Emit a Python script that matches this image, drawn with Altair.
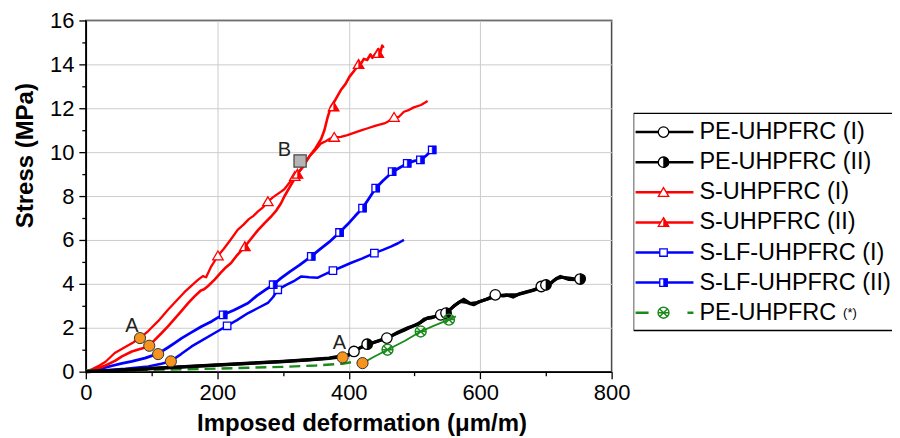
import altair as alt
import pandas as pd

# ---------------- data ----------------
# S-UHPFRC (I)  red, open triangles
sI_x = [0, 10, 20, 30, 44, 60, 72, 82, 95, 110, 125, 140, 150, 160, 171, 178, 183, 190, 201, 210, 220, 231, 240, 248, 255, 262, 270, 277, 285, 297, 302, 313, 320, 330, 340, 348, 358, 365, 372, 378, 388, 398, 410, 420, 429, 440, 454, 460, 469, 476, 484, 490, 499, 510, 520]
sI_y = [0, 0.12, 0.27, 0.45, 0.85, 1.12, 1.33, 1.53, 1.85, 2.3, 2.82, 3.3, 3.62, 3.9, 4.19, 4.35, 4.3, 4.75, 5.28, 5.6, 6.0, 6.46, 6.7, 6.95, 7.1, 7.3, 7.5, 7.75, 7.95, 8.2, 8.31, 8.73, 8.95, 9.3, 9.8, 10.05, 10.4, 10.5, 10.62, 10.68, 10.7, 10.78, 10.9, 11.0, 11.09, 11.2, 11.31, 11.4, 11.59, 11.6, 11.84, 11.9, 12.04, 12.15, 12.33]
sI_mx = [201, 277, 318, 378, 469]
sI_my = [5.28, 7.75, 8.9, 10.68, 11.59]

# S-UHPFRC (II)  red, half-filled triangles
sII_x = [0, 15, 30, 45, 55, 70, 85, 96, 105, 115, 125, 135, 145, 156, 165, 175, 180, 186, 196, 205, 213, 221, 230, 242, 252, 262, 272, 282, 290, 297, 302, 310, 316, 322, 330, 340, 350, 358, 363, 368, 373, 380, 388, 395, 401, 408, 413, 418, 423, 428, 433, 436, 441, 445, 448, 451, 453]
sII_y = [0, 0.12, 0.28, 0.5, 0.7, 0.92, 1.05, 1.18, 1.45, 1.75, 2.06, 2.4, 2.75, 3.13, 3.42, 3.7, 3.75, 3.9, 4.19, 4.5, 4.75, 4.95, 5.3, 5.7, 6.08, 6.45, 6.77, 7.07, 7.35, 7.67, 7.98, 8.4, 8.7, 9.0, 9.35, 9.8, 10.2, 10.6, 11.0, 11.6, 12.07, 12.4, 12.83, 13.1, 13.43, 13.7, 13.89, 14.0, 14.25, 14.2, 14.45, 14.3, 14.5, 14.7, 14.55, 14.85, 14.75]
sII_mx = [242, 322, 377, 415, 445]
sII_my = [5.7, 9.0, 12.07, 14.0, 14.5]

# S-LF-UHPFRC (I)  blue, open squares
lI_x = [0, 30, 60, 95, 115, 129, 145, 161, 178, 196, 215, 230, 247, 262, 277, 285, 292, 305, 318, 328, 340, 353, 365, 376, 390, 403, 420, 439, 452, 464, 475, 484]
lI_y = [0, 0.07, 0.13, 0.24, 0.36, 0.47, 0.8, 1.15, 1.45, 1.76, 2.09, 2.35, 2.67, 2.9, 3.13, 3.4, 3.73, 3.95, 4.15, 4.34, 4.3, 4.28, 4.45, 4.6, 4.78, 4.95, 5.15, 5.4, 5.55, 5.7, 5.85, 6.0]
lI_mx = [215, 292, 376, 439]
lI_my = [2.09, 3.73, 4.6, 5.4]

# S-LF-UHPFRC (II)  blue, half-filled squares
lII_x = [0, 20, 40, 55, 70, 90, 110, 125, 135, 146, 160, 176, 192, 200, 209, 225, 235, 247, 260, 272, 285, 297, 310, 325, 343, 355, 370, 386, 398, 410, 421, 431, 441, 452, 467, 478, 489, 500, 510, 518, 527]
lII_y = [0, 0.12, 0.27, 0.38, 0.47, 0.62, 0.82, 1.1, 1.3, 1.53, 1.78, 2.06, 2.3, 2.45, 2.59, 2.8, 2.95, 3.13, 3.45, 3.7, 3.96, 4.26, 4.55, 4.85, 5.25, 5.55, 5.9, 6.34, 6.7, 7.1, 7.45, 7.9, 8.36, 8.7, 9.11, 9.3, 9.49, 9.6, 9.65, 9.85, 10.1]
lII_mx = [209, 285, 343, 386, 421, 441, 466, 489, 509, 527]
lII_my = [2.59, 3.96, 5.25, 6.34, 7.45, 8.36, 9.11, 9.49, 9.65, 10.1]

# PE-UHPFRC (I)  black, open circles
pI_x = [0, 50, 100, 150, 200, 250, 300, 340, 370, 390, 400, 408, 415, 428, 440, 458, 470, 485, 499, 510, 520, 530, 540, 550, 560, 570, 580, 590, 600, 610, 623, 635, 645, 656, 668, 680, 693, 705, 712, 722, 735, 747, 755, 760]
pI_y = [0, 0.06, 0.14, 0.22, 0.3, 0.38, 0.46, 0.54, 0.6, 0.68, 0.75, 0.92, 1.05, 1.23, 1.35, 1.53, 1.7, 1.9, 2.1, 2.25, 2.45, 2.5, 2.59, 2.7, 3.0, 3.2, 3.15, 3.05, 3.2, 3.3, 3.5, 3.45, 3.5, 3.5, 3.6, 3.7, 3.88, 3.95, 4.15, 4.34, 4.2, 4.19, 4.3, 4.32]
pI_mx = [408, 458, 540, 623, 693]
pI_my = [0.92, 1.53, 2.59, 3.5, 3.88]

# PE-UHPFRC (II)  black, half-filled circles
pII_x = [0, 50, 100, 150, 200, 250, 300, 340, 370, 385, 395, 405, 418, 430, 445, 460, 475, 490, 505, 515, 525, 535, 545, 555, 565, 575, 585, 595, 605, 615, 625, 640, 650, 660, 672, 685, 698, 708, 716, 725, 738, 750, 758]
pII_y = [0, 0.07, 0.15, 0.23, 0.31, 0.39, 0.47, 0.55, 0.62, 0.7, 0.72, 0.85, 1.1, 1.25, 1.4, 1.55, 1.8, 2.0, 2.15, 2.4, 2.45, 2.55, 2.65, 2.85, 3.1, 3.3, 3.1, 3.15, 3.25, 3.35, 3.45, 3.5, 3.4, 3.55, 3.65, 3.75, 3.92, 4.05, 4.25, 4.3, 4.25, 4.2, 4.35]
pII_mx = [428, 548, 700, 752]
pII_my = [1.25, 2.67, 3.95, 4.22]

# PE-UHPFRC(*)  green, crossed circles
gd_x = [0, 100, 200, 300, 350, 390, 408, 421]
gd_y = [0.05, 0.08, 0.14, 0.22, 0.28, 0.36, 0.45, 0.39]
gs_x = [421, 440, 459, 485, 509.5, 530, 552.5, 563]
gs_y = [0.39, 0.7, 1.0, 1.4, 1.83, 2.1, 2.37, 2.52]
g_mx = [459, 509.5, 552.5]
g_my = [1.0, 1.83, 2.37]

# Points A and B
a_x = [82.4, 96.5, 110, 129.4, 390.7, 421]
a_y = [1.53, 1.18, 0.80, 0.47, 0.65, 0.39]
b_x = [326]
b_y = [9.6]
lab_x = [70, 386, 302]
lab_y = [2.06, 1.3, 10.1]
lab_t = ["A", "A", "B"]

# legend
leg_labels = ["PE-UHPFRC (I)", "PE-UHPFRC (II)", "S-UHPFRC (I)", "S-UHPFRC (II)",
              "S-LF-UHPFRC (I)", "S-LF-UHPFRC (II)", "PE-UHPFRC"]

# ---------------- styling ----------------
RED, BLUE, BLACK, GREEN = "#ff0000", "#0000ff", "#000000", "#1a8a1a"
ORANGE, GRAY = "#f7941d", "#b4b4b4"
FONT = "Liberation Sans"

CIRCLE = "M1,0 A1,1 0 1,1 -1,0 A1,1 0 1,1 1,0 Z"
RH_CIRCLE = "M0,-1 A1,1 0 0,1 0,1 Z"
TRI = "M0,-1 L1.1,0.85 L-1.1,0.85 Z"
RH_TRI = "M0,-1 L1.1,0.85 L0,0.85 Z"
SQ = "M-1,-1 L1,-1 L1,1 L-1,1 Z"
RH_SQ = "M0,-1 L1,-1 L1,1 L0,1 Z"
XCIRC = CIRCLE + " M-0.7,-0.7 L0.7,0.7 M-0.7,0.7 L0.7,-0.7 M-1,0 L1,0"


def cond(step, a, b):
    return {"condition": {"test": f"datum.value % {step} === 0", "value": a}, "value": b}


xaxis = alt.Axis(values=list(range(0, 801, 100)),
                 labelExpr="datum.value % 200 === 0 ? datum.label : ''",
                 tickSize=cond(200, 7, 4), gridOpacity=cond(200, 1, 0),
                 grid=True, gridColor="#cccccc", gridWidth=1,
                 title="Imposed deformation (μm/m)", titleFontSize=24, titleFontWeight="bold",
                 titleX=111, titleY=52, titleAlign="left", titleBaseline="middle",
                 labelFontSize=22, labelPadding=4, labelFlush=False,
                 domainColor="black", domainWidth=1.5, tickColor="black", tickWidth=1.3,
                 labelColor="black", titleColor="black", labelFont=FONT, titleFont=FONT)
yaxis = alt.Axis(values=list(range(0, 17)),
                 labelExpr="datum.value % 2 === 0 ? datum.label : ''",
                 tickSize=cond(2, 7, 4), gridOpacity=cond(2, 1, 0),
                 grid=True, gridColor="#cccccc", gridWidth=1,
                 title="Stress (MPa)", titleFontSize=24, titleFontWeight="bold",
                 titleX=-60, titleY=135, titleAngle=270, titleAlign="center",
                 titleBaseline="middle",
                 labelFontSize=22, labelPadding=5, labelFlush=False,
                 domainColor="black", domainWidth=1.5, tickColor="black", tickWidth=1.3,
                 labelColor="black", titleColor="black", labelFont=FONT, titleFont=FONT)

XS = alt.Scale(domain=[0, 800], nice=False, zero=False)
YS = alt.Scale(domain=[0, 16], nice=False, zero=False)
X = alt.X("x:Q", scale=XS, axis=xaxis)
Y = alt.Y("y:Q", scale=YS, axis=yaxis)


def line(xs, ys, color, width, dash=None):
    kw = dict(color=color, strokeWidth=width, strokeJoin="round")
    if dash:
        kw["strokeDash"] = dash
    return alt.Chart(pd.DataFrame({"x": xs, "y": ys})).mark_line(**kw).encode(x=X, y=Y)


def pts(xs, ys, shape, size, fill, stroke, sw=1.3):
    return alt.Chart(pd.DataFrame({"x": xs, "y": ys})).mark_point(
        shape=shape, size=size, filled=True, fill=fill, stroke=stroke,
        strokeWidth=sw, opacity=1).encode(x=X, y=Y)


layers = [
    line(lI_x, lI_y, BLUE, 2.5),
    line(lII_x, lII_y, BLUE, 2.8),
    line(sI_x, sI_y, RED, 2.3),
    line(sII_x, sII_y, RED, 2.6),
    line(gd_x, gd_y, GREEN, 2.4, [11, 6]),
    line(pI_x, pI_y, BLACK, 3.2),
    line(pII_x, pII_y, BLACK, 3.2),
    line(gs_x, gs_y, GREEN, 1.8),
    pts(lI_mx, lI_my, SQ, 56, "white", BLUE),
    pts(lII_mx, lII_my, SQ, 56, "white", BLUE),
    pts(lII_mx, lII_my, RH_SQ, 56, BLUE, BLUE, 0.5),
    pts(sI_mx, sI_my, TRI, 90, "white", RED),
    pts(sII_mx, sII_my, TRI, 90, "white", RED),
    pts(sII_mx, sII_my, RH_TRI, 90, RED, RED, 0.5),
    pts(pI_mx, pI_my, CIRCLE, 110, "white", BLACK),
    pts(pII_mx, pII_my, CIRCLE, 110, "white", BLACK),
    pts(pII_mx, pII_my, RH_CIRCLE, 110, BLACK, BLACK, 0.5),
    pts(g_mx, g_my, XCIRC, 120, "transparent", GREEN, 1.4),
    alt.Chart(pd.DataFrame({"x": a_x, "y": a_y})).mark_point(
        shape="circle", size=125, filled=True, fill=ORANGE, stroke="#333333",
        strokeWidth=1, opacity=1).encode(x=X, y=Y),
    alt.Chart(pd.DataFrame({"x": b_x, "y": b_y})).mark_point(
        shape="square", size=150, filled=True, fill=GRAY, stroke="#444444",
        strokeWidth=1.2, opacity=1).encode(x=X, y=Y),
    alt.Chart(pd.DataFrame({"x": lab_x, "y": lab_y, "t": lab_t})).mark_text(
        fontSize=20, font=FONT, color="#222222", align="center", baseline="middle"
    ).encode(x=X, y=Y, text="t:N"),
]

main = alt.layer(*layers).properties(
    width=527, height=352,
    view=alt.ViewBackground(stroke="black", strokeWidth=1.5))

# ---------------- legend panel ----------------
rows = list(range(7))
LX = alt.Scale(domain=[0, 259], nice=False, zero=False)
LY = alt.Scale(domain=[-3.709, 7.958], nice=False, zero=False, reverse=True)
leg_colors = [BLACK, BLACK, RED, RED, BLUE, BLUE, GREEN]
ldf = pd.DataFrame({"row": rows, "label": leg_labels, "c": leg_colors,
                    "x0": [2] * 7, "x1": [60] * 7, "xm": [30] * 7, "xt": [66] * 7})


def lx(f):
    return alt.X(f"{f}:Q", scale=LX, axis=None)


def ly(f="row"):
    return alt.Y(f"{f}:Q", scale=LY, axis=None)


box = alt.Chart(pd.DataFrame({"x": [0], "x2": [275], "y": [-0.62], "y2": [6.59]})).mark_rect(
    fill="white", stroke="black", strokeWidth=1.3, clip=True
).encode(x=lx("x"), x2="x2:Q", y=ly("y"), y2="y2:Q")

solid = ldf[ldf.row < 6]
dashed = ldf[ldf.row == 6]
lrules = alt.Chart(solid).mark_rule(strokeWidth=2.5).encode(
    x=lx("x0"), x2="x1:Q", y=ly(), color=alt.Color("c:N", scale=None))
lrule_g = alt.Chart(dashed).mark_rule(strokeWidth=2.5, strokeDash=[13, 39], color=GREEN).encode(
    x=lx("x0"), x2="x1:Q", y=ly())


def lpts(sub, shape, size, fill, stroke, sw=1.3):
    return alt.Chart(ldf[ldf.row.isin(sub)]).mark_point(
        shape=shape, size=size, filled=True, fill=fill, stroke=stroke,
        strokeWidth=sw, opacity=1).encode(x=lx("xm"), y=ly())


ltext = alt.Chart(ldf).mark_text(fontSize=23.5, font=FONT, align="left", baseline="middle",
                                 color="black", clip=True).encode(
    x=lx("xt"), y=ly(), text="label:N")
lstar = alt.Chart(pd.DataFrame({"x": [210], "row": [6], "t": ["(*)"]})).mark_text(
    fontSize=13, font=FONT, align="left", baseline="middle", color="black").encode(
    x=lx("x"), y=ly(), text="t:N")

legend = alt.layer(
    box, lrules, lrule_g,
    lpts([0, 1], CIRCLE, 110, "white", BLACK),
    lpts([1], RH_CIRCLE, 110, BLACK, BLACK, 0.5),
    lpts([2, 3], TRI, 90, "white", RED),
    lpts([3], RH_TRI, 90, RED, RED, 0.5),
    lpts([4, 5], SQ, 56, "white", BLUE),
    lpts([5], RH_SQ, 56, BLUE, BLUE, 0.5),
    lpts([6], XCIRC, 120, "white", GREEN, 1.4),
    ltext, lstar,
).properties(width=259, height=352,
             view=alt.ViewBackground(stroke="transparent", strokeWidth=0))

chart = alt.HConcatChart(hconcat=[main, legend], spacing=22, bounds="flush").properties(
    padding={"left": 5, "top": 0, "right": 0, "bottom": 0}
).configure(font=FONT)

chart.save("out.html", embed_options={"renderer": "svg", "actions": False})
